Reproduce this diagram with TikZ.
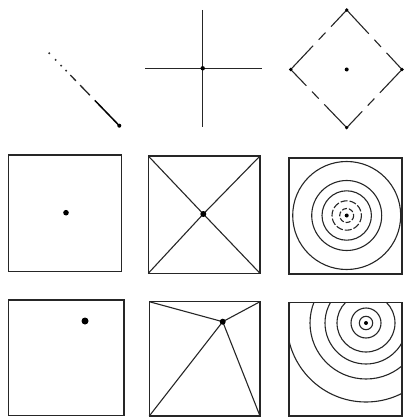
\documentclass[tikz,border=0pt]{standalone}
\usetikzlibrary{calc}
\begin{document}
\begin{tikzpicture}[x=1pt,y=-1pt,
  ln/.style={line width=1.1pt,black!85},
  frame/.style={line width=1.3pt,black!85},
  bigdot/.style={fill=black},
  ring/.style={line width=1.1pt,black!85}]
\useasboundingbox (0,0) rectangle (404,419);
% ---------- panel 1: fading line ----------
\coordinate (p1a) at (49.3,53.3);
\coordinate (p1b) at (119.3,125.7);
\foreach \t in {0,0.09,0.17,0.24}
  \fill[black!80] ($(p1a)!\t!(p1b)$) circle (1.1);
\draw[ln,line width=1.3pt] ($(p1a)!0.30!(p1b)$) -- ($(p1a)!0.38!(p1b)$);
\draw[ln,line width=1.3pt] ($(p1a)!0.44!(p1b)$) -- ($(p1a)!0.58!(p1b)$);
\draw[line width=1.5pt] ($(p1a)!0.65!(p1b)$) -- (p1b);
\fill (p1b) circle (2);
% ---------- panel 2: cross ----------
\coordinate (c2) at (202.7,68.3);
\coordinate (c2t) at (202.7,10);
\coordinate (c2b) at (202.7,127);
\coordinate (c2l) at (145,68.3);
\coordinate (c2r) at (261.7,68.3);
\draw[ln] (c2t) -- (c2b);
\draw[ln] (c2l) -- (c2r);
\fill (c2) circle (2.2);
% ---------- panel 3: dashed diamond ----------
\coordinate (dT) at (346.7,10);
\coordinate (dR) at (402,69.5);
\coordinate (dB) at (346.7,127.7);
\coordinate (dL) at (290.7,69.5);
\coordinate (dC) at (346.7,69.5);
\foreach \u/\v in {dT/dR,dR/dB,dB/dL,dL/dT}{
  \draw[ln] (\u) -- ($(\u)!0.40!(\v)$);
  \draw[ln] ($(\u)!0.50!(\v)$) -- ($(\u)!0.62!(\v)$);
  \draw[ln] ($(\u)!0.72!(\v)$) -- (\v);
}
\foreach \p in {dT,dR,dB,dL} \fill (\p) circle (1.8);
\fill (dC) circle (2);
% ---------- panel 4: square with centre dot ----------
\draw[frame] (8.3,155) rectangle (121.7,271.7);
\coordinate (c4) at (66,212.7);
\fill (c4) circle (2.8);
% ---------- panel 5: square with diagonals ----------
\coordinate (s5a) at (148.3,156);
\coordinate (s5b) at (260,156);
\coordinate (s5c) at (260,273.3);
\coordinate (s5d) at (148.3,273.3);
\coordinate (c5) at (203.3,214);
\draw[frame] (s5a) -- (s5b) -- (s5c) -- (s5d) -- cycle;
\foreach \p in {s5a,s5b,s5c,s5d} \draw[ln] (\p) -- (c5);
\fill (c5) circle (3);
% ---------- panel 6: concentric circles ----------
\draw[frame] (289,158) rectangle (402,274);
\coordinate (c6) at (346.7,215.5);
\draw[ring] (c6) circle (54);
\draw[ring] (c6) circle (35);
\draw[ring] (c6) circle (24.7);
\draw[ring,dash pattern=on 7pt off 2pt] (c6) circle (14.7);
\draw[ring,dash pattern=on 5pt off 2pt] (c6) circle (7);
\fill (c6) circle (2);
% ---------- panel 7: square with off-centre dot ----------
\draw[frame] (8.3,300) rectangle (124,415.7);
\coordinate (c7) at (85,321);
\fill (c7) circle (3.5);
% ---------- panel 8: square with off-centre apex ----------
\coordinate (s8a) at (149.3,301.7);
\coordinate (s8b) at (260,301.7);
\coordinate (s8c) at (260,416);
\coordinate (s8d) at (149.3,416);
\coordinate (c8) at (222.7,321.7);
\draw[frame] (s8a) -- (s8b) -- (s8c) -- (s8d) -- cycle;
\foreach \p in {s8a,s8b,s8c,s8d} \draw[ln] (\p) -- (c8);
\fill (c8) circle (3);
% ---------- panel 9: off-centre concentric circles ----------
\draw[frame] (289,302.5) rectangle (402,416);
\coordinate (c9) at (366,323);
\begin{scope}
  \clip (289,302.5) rectangle (402,416);
  \foreach \r in {6.7,15,29,41,56,79}
    \draw[ring] (c9) circle (\r);
\end{scope}
\fill (c9) circle (2);
\end{tikzpicture}
\end{document}
